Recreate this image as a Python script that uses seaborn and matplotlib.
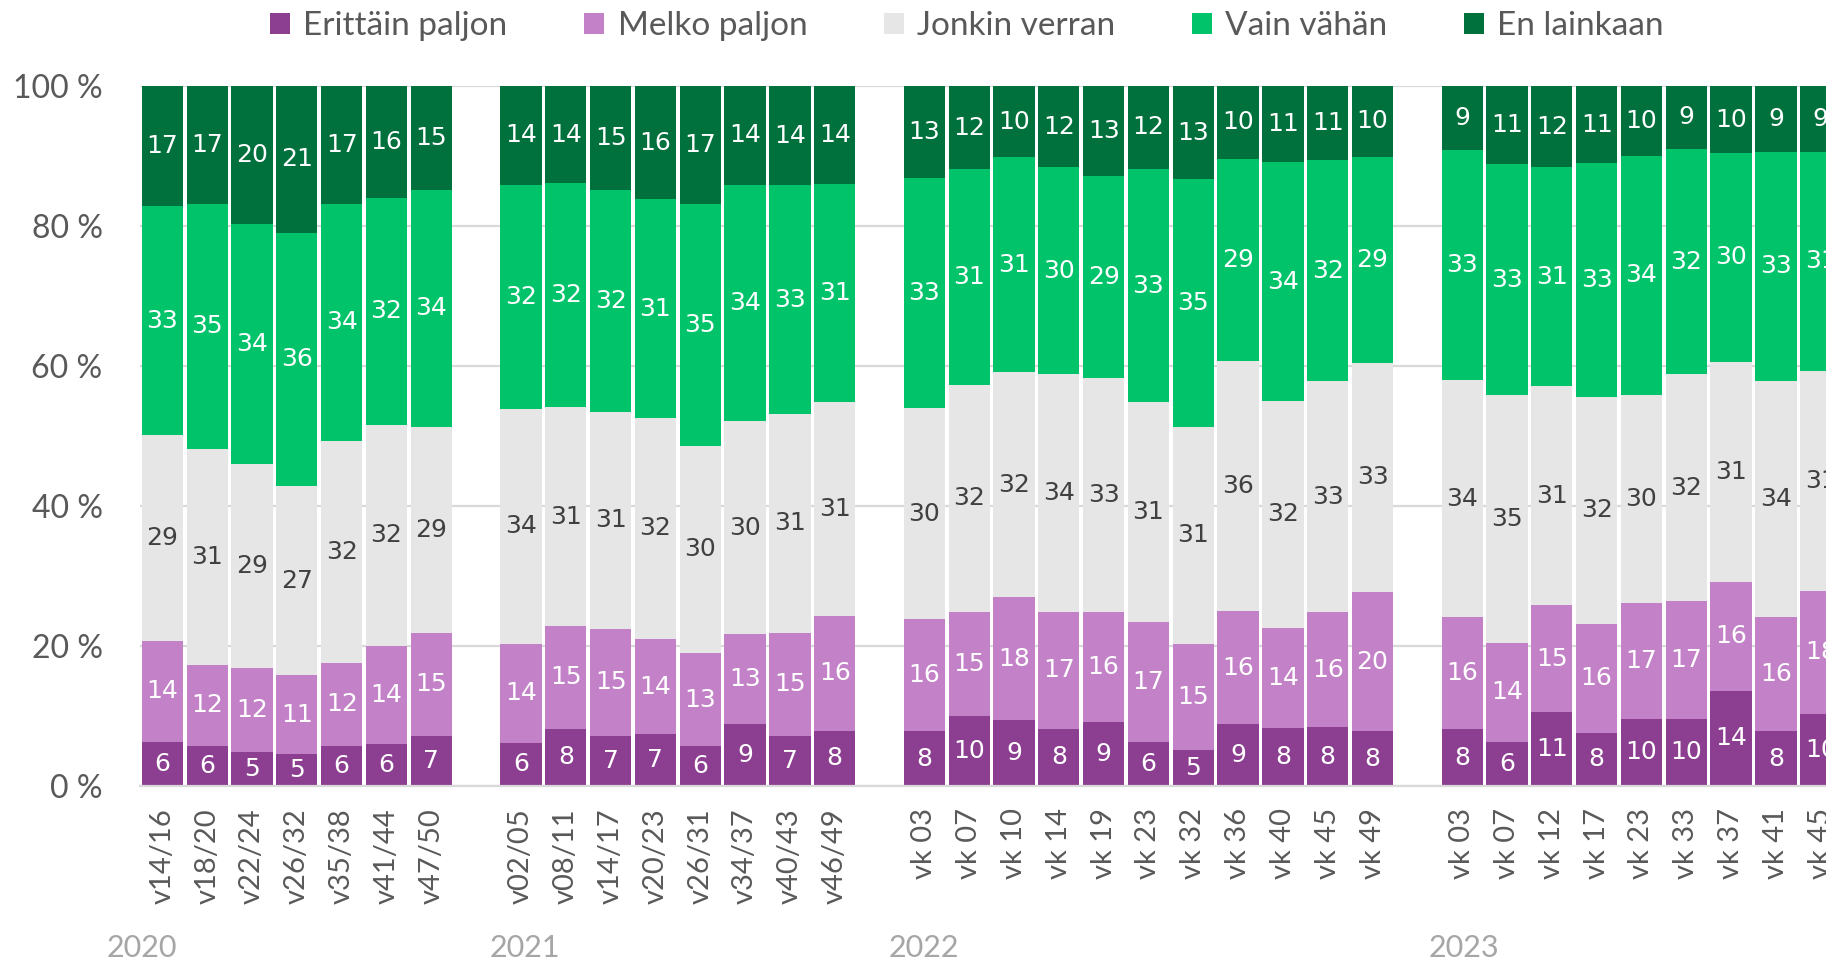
import numpy as np
import matplotlib
matplotlib.use("Agg")
import matplotlib.pyplot as plt
from matplotlib.patches import Patch
import seaborn as sns

# ---------------- data ----------------
years = ["2020", "2021", "2022", "2023"]
periods_2020 = ["v14/16", "v18/20", "v22/24", "v26/32", "v35/38", "v41/44", "v47/50"]
periods_2021 = ["v02/05", "v08/11", "v14/17", "v20/23", "v26/31", "v34/37", "v40/43", "v46/49"]
periods_2022 = ["vk 03", "vk 07", "vk 10", "vk 14", "vk 19", "vk 23", "vk 32", "vk 36",
                "vk 40", "vk 45", "vk 49"]
periods_2023 = ["vk 03", "vk 07", "vk 12", "vk 17", "vk 23", "vk 33", "vk 37", "vk 41", "vk 45"]

series_names = ["Erittäin paljon", "Melko paljon", "Jonkin verran", "Vain vähän", "En lainkaan"]

erittain = [6.3, 5.7, 4.8, 4.6, 5.7, 6.0, 7.2,
            6.2, 8.2, 7.1, 7.4, 5.7, 8.8, 7.2, 7.9,
            7.8, 10.0, 9.4, 8.2, 9.1, 6.3, 5.2, 8.8, 8.3, 8.4, 7.8,
            8.1, 6.3, 10.6, 7.6, 9.6, 9.6, 13.6, 7.8, 10.3]
melko = [14.4, 11.6, 12.0, 11.2, 11.9, 14.0, 14.7,
         14.1, 14.6, 15.4, 13.6, 13.3, 12.9, 14.7, 16.4,
         16.0, 14.9, 17.6, 16.7, 15.8, 17.1, 15.1, 16.2, 14.3, 16.4, 19.9,
         16.0, 14.2, 15.2, 15.6, 16.6, 16.8, 15.6, 16.3, 17.6]
jonkin = [29.4, 30.8, 29.2, 27.1, 31.7, 31.6, 29.4,
          33.6, 31.4, 31.0, 31.6, 29.6, 30.4, 31.2, 30.6,
          30.2, 32.4, 32.1, 33.9, 33.4, 31.4, 31.0, 35.7, 32.4, 33.0, 32.8,
          33.9, 35.4, 31.3, 32.4, 29.7, 32.4, 31.4, 33.8, 31.4]
vain = [32.8, 35.1, 34.3, 36.1, 33.9, 32.4, 33.9,
        32.0, 31.9, 31.6, 31.2, 34.6, 33.8, 32.7, 31.1,
        32.9, 30.8, 30.7, 29.6, 28.8, 33.4, 35.4, 28.9, 34.1, 31.6, 29.4,
        32.8, 32.9, 31.3, 33.4, 34.1, 32.2, 29.8, 32.7, 31.3]
en = [17.1, 16.8, 19.7, 21.0, 16.8, 16.0, 14.8,
      14.1, 13.9, 14.9, 16.2, 16.8, 14.1, 14.2, 14.0,
      13.1, 11.9, 10.2, 11.6, 12.9, 11.8, 13.3, 10.4, 10.9, 10.6, 10.1,
      9.2, 11.2, 11.6, 11.0, 10.0, 9.0, 9.6, 9.4, 9.4]

y_ticks = [0, 20, 40, 60, 80, 100]

# ---------------- style ----------------
colors = ["#8C3F91", "#C382C7", "#E6E6E6", "#00C36A", "#00703C"]
label_colors = ["white", "white", "#404040", "white", "white"]
text_gray = "#595959"

sns.set_style("white")
plt.rcParams["font.family"] = ["Lato", "DejaVu Sans"]

W, H = 1826, 960
fig = plt.figure(figsize=(W / 100, H / 100), dpi=100)
ax_left_px, ax_top_px, ax_bottom_px = 140, 86, 786
ax = fig.add_axes([ax_left_px / W, 1 - ax_bottom_px / H,
                   1 - ax_left_px / W, (ax_bottom_px - ax_top_px) / H])

# slot positions: one empty slot between years
groups = [periods_2020, periods_2021, periods_2022, periods_2023]
pos, labels, starts = [], [], []
p = 0
for g in groups:
    starts.append(p)
    for lab in g:
        pos.append(p)
        labels.append(lab)
        p += 1
    p += 1
pos = np.array(pos, dtype=float)

data = np.array([erittain, melko, jonkin, vain, en])
cum = data.cumsum(axis=0)

ax.yaxis.grid(True, color="#D9D9D9", lw=1.6)
ax.set_axisbelow(True)

# stacked bars drawn as overlapping cumulative bars (top layer first)
for i in range(len(series_names) - 1, -1, -1):
    sns.barplot(x=pos, y=cum[i], native_scale=True, color=colors[i], saturation=1,
                width=0.92, errorbar=None, linewidth=0, ax=ax, zorder=2)

# data labels
for i in range(len(series_names)):
    bottoms = cum[i] - data[i]
    for x, b, v in zip(pos, bottoms, data[i]):
        ax.text(x, b + v / 2, f"{v:.0f}", ha="center", va="center",
                fontsize=18, color=label_colors[i], family="DejaVu Sans", zorder=5)

slot_px = 44.82
ax.set_xlim(-0.5, (W - ax_left_px) / slot_px - 0.5)
ax.set_ylim(0, 100)
ax.set_xticks(pos)
ax.set_xticklabels(labels, rotation=90, fontsize=21, color=text_gray)
ax.set_yticks(y_ticks)
ax.set_yticklabels([f"{v} %" for v in y_ticks], fontsize=23, color=text_gray)
ax.tick_params(axis="x", length=0, pad=16)
ax.tick_params(axis="y", length=0, pad=27)
ax.set_xlabel("")
ax.set_ylabel("")
for s in ["top", "right", "left"]:
    ax.spines[s].set_visible(False)
ax.spines["bottom"].set_color("#D9D9D9")
ax.spines["bottom"].set_linewidth(1.6)

# year labels below the week labels
year_offsets = [-1.24, -0.71, -0.80, -0.74]
for yr, st, off in zip(years, starts, year_offsets):
    ax.text(st + off, -0.231, yr, transform=ax.get_xaxis_transform(),
            ha="left", va="center", fontsize=22, color="#A6A6A6")

# legend
handles = [Patch(facecolor=c, edgecolor="none", label=n) for c, n in zip(colors, series_names)]
fig.legend(handles=handles, loc="center", bbox_to_anchor=(967 / W, 1 - 26 / H), ncol=5,
           frameon=False, fontsize=24, handlelength=0.6, handleheight=0.6,
           handletextpad=0.4, columnspacing=2.3, labelcolor=text_gray)

fig.savefig("out.png", dpi=100)
